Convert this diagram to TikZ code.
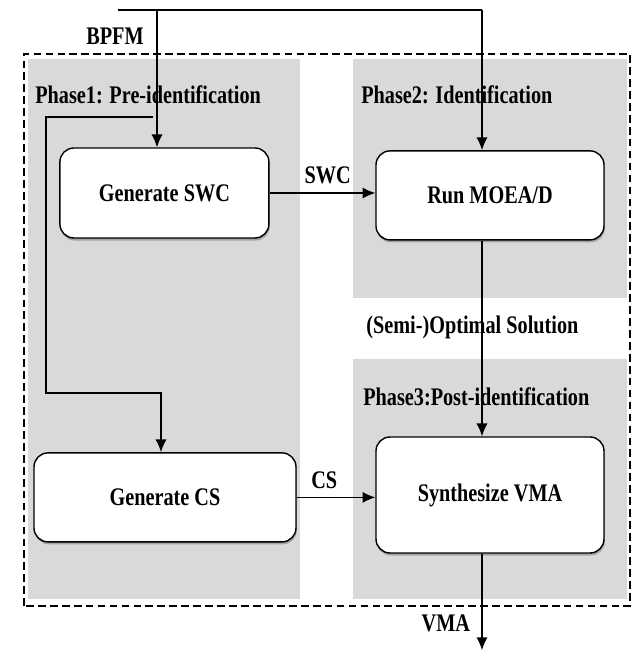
\documentclass[tikz,border=0pt]{standalone}
\usepackage{fontspec}
\setmainfont{Liberation Serif}[FakeStretch=0.8]
\usetikzlibrary{arrows.meta,shadows}

\begin{document}
\begin{tikzpicture}
    \tikzstyle{ph_panel} = [fill = black!15, draw = none]
    \tikzstyle{ph_box}   = [shape = rectangle, rounded corners = 3.5mm, draw = black, line width = 1pt, fill = white,
                            drop shadow = {shadow xshift = 0.6pt, shadow yshift = -1.8pt, opacity = 0.6},
                            font = \fontsize{18}{21}\selectfont\bfseries]
    \tikzstyle{ph_text}  = [font = \fontsize{18}{21}\selectfont\bfseries, inner sep = 0pt]
    \tikzstyle{ph_arrow} = [-{Latex[length=3.2mm, width=2.8mm]}, line width = 1pt]

    \useasboundingbox (0, 0) rectangle (15.775, 16.275);

    % phase panels and outer frame
    \fill[ph_panel] (0.7,   1.3)  rectangle (7.5,   14.8);
    \fill[ph_panel] (8.825, 8.825) rectangle (15.675, 14.8);
    \fill[ph_panel] (8.825, 1.3)  rectangle (15.675, 7.3);
    \draw[line width = 1pt, dash pattern = on 5.5pt off 3pt] (0.6, 1.125) rectangle (15.75, 14.925);

    \node[ph_text, anchor = west] at (0.875, 13.9) (p1) {Phase1: Pre-identification};
    \node[ph_text, anchor = west] at (9.025, 13.9) (p2) {Phase2: Identification};
    \node[ph_text, anchor = west] at (9.075, 6.35) (p3) {Phase3:Post-identification};

    \node[ph_box, minimum width = 5.225cm, minimum height = 2.25cm]  at (4.11,  11.45)  (swc)   {Generate SWC};
    \node[ph_box, minimum width = 5.7cm,   minimum height = 2.225cm] at (12.25, 11.39)  (moea)  {Run MOEA/D};
    \node[ph_box, minimum width = 6.55cm,  minimum height = 2.225cm] at (4.125, 3.84)   (cs)    {Generate CS};
    \node[ph_box, minimum width = 5.7cm,   minimum height = 2.9cm]   at (12.25, 3.9)    (synth) {Synthesize VMA};

    \node[ph_text] at (2.875, 15.375) (bpfm) {BPFM};
    \node[ph_text] at (11.81, 8.1)    (sol)  {(Semi-)Optimal Solution};

    \coordinate (in_l)   at (2.95,  16.025);
    \coordinate (in_r)   at (12.05, 16.025);
    \coordinate (in_a)   at (3.925, 16.025);
    \coordinate (branch) at (3.825, 13.35);
    \coordinate (bend_a) at (1.15,  13.35);
    \coordinate (bend_b) at (1.15,  6.45);
    \coordinate (bend_c) at (4.025, 6.45);
    \coordinate (out)    at (12.05, 0.02);

    \draw[line width = 1pt] (in_l) -- (in_r);
    \draw[ph_arrow] (in_a) -- (in_a |- swc.north);
    \draw[ph_arrow] (in_r) -- (in_r |- moea.north);
    \draw[ph_arrow] (branch) -- (bend_a) -- (bend_b) -- (bend_c) -- (bend_c |- cs.north);
    \draw[ph_arrow] (moea.south -| in_r) -- (synth.north -| in_r);

    \path[every edge/.append style = {ph_arrow}]
      (swc.east) edge node[ph_text, above = 6pt, pos = 0.55] {SWC} (swc.east -| moea.west)
      (cs.east)  edge node[ph_text, above = 6pt, pos = 0.35] {CS}  (cs.east -| synth.west)
      (synth.south -| in_r) edge node[ph_text, left = 8pt, pos = 0.72] {VMA} (out)
    ;
  \end{tikzpicture}
\end{document}
